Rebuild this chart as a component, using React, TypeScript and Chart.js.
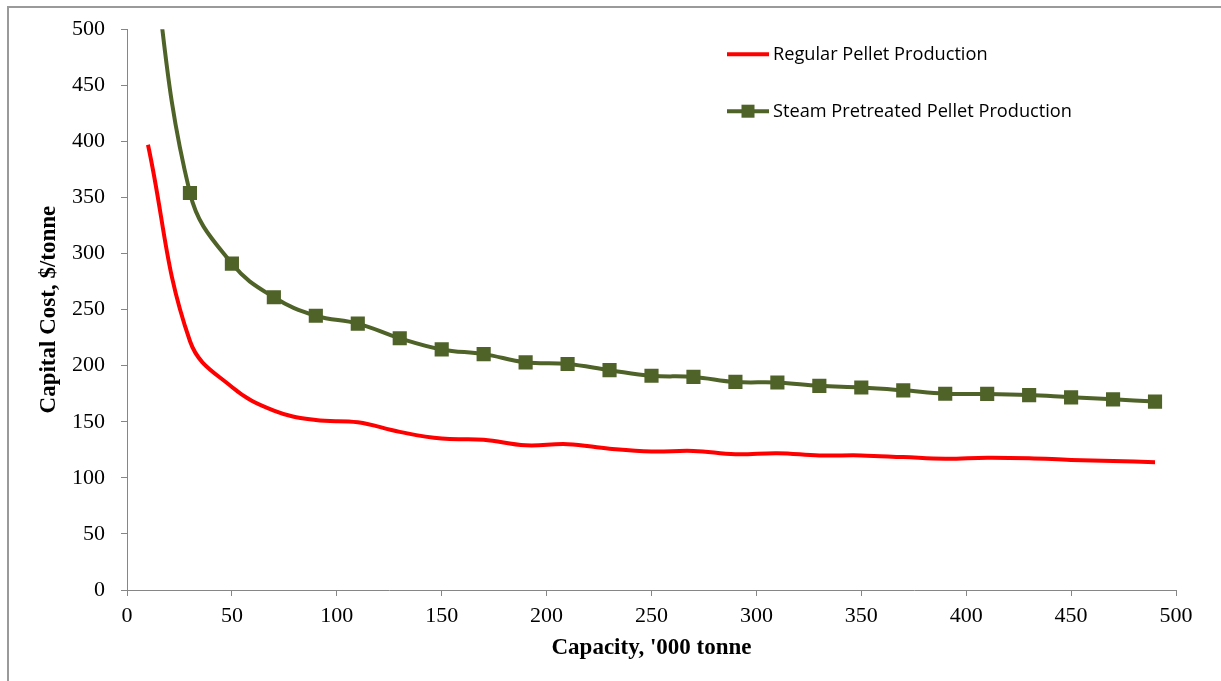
import React, { useEffect, useRef } from "react";
import { Chart, registerables } from "chart.js";

Chart.register(...registerables);

// Capacity, '000 tonne
const capacity = [10, 30, 50, 70, 90, 110, 130, 150, 170, 190, 210, 230, 250, 270, 290, 310, 330, 350, 370, 390, 410, 430, 450, 470, 490];
// Capital cost, $/tonne
const regularPellet = [397, 222, 181, 160, 151.5, 149.5, 141, 135, 134, 129, 130, 126, 123.5, 124, 121, 122, 120, 120, 118.5, 117, 118, 117.5, 116, 115, 114];
const steamPellet = [600, 354, 291, 261, 244.5, 237.5, 224.5, 214.5, 210.3, 203, 201.5, 196, 191, 190, 185.5, 185, 182, 180.5, 178, 175, 174.8, 173.8, 171.8, 170, 168];

const seriesNames = ["Regular Pellet Production", "Steam Pretreated Pellet Production"];
const xTickValues = [0, 50, 100, 150, 200, 250, 300, 350, 400, 450, 500];
const yTickValues = [0, 50, 100, 150, 200, 250, 300, 350, 400, 450, 500];

const RED = "#FF0000";
const OLIVE = "#4F6228";
const AXIS = "#868686";
const SERIF = "'Liberation Serif', 'Times New Roman', serif";

const framePlugin = {
  id: "frame",
  beforeDraw(chart: any) {
    const ctx = chart.ctx;
    ctx.save();
    ctx.fillStyle = "#ffffff";
    ctx.fillRect(0, 0, chart.width, chart.height);
    ctx.strokeStyle = "#9a9a9a";
    ctx.lineWidth = 2;
    ctx.strokeRect(8, 7, chart.width + 20, chart.height + 20);
    ctx.restore();
  },
};

const legendPlugin = {
  id: "customLegend",
  afterDraw(chart: any) {
    const ctx = chart.ctx;
    const area = chart.chartArea;
    const x0 = area.left + 600;
    const rows = [area.top + 25, area.top + 82];
    ctx.save();
    ctx.font = "18.2px 'Open Sans', sans-serif";
    ctx.textBaseline = "middle";
    ctx.textAlign = "left";
    chart.data.datasets.forEach((ds: any, i: number) => {
      const y = rows[i];
      ctx.strokeStyle = ds.borderColor;
      ctx.lineWidth = 4;
      ctx.beginPath();
      ctx.moveTo(x0, y);
      ctx.lineTo(x0 + 42, y);
      ctx.stroke();
      if (ds.pointRadius > 0) {
        ctx.fillStyle = ds.pointBackgroundColor;
        ctx.fillRect(x0 + 21 - 6.5, y - 6.5, 13, 13);
      }
      ctx.fillStyle = "#000";
      ctx.fillText(ds.label, x0 + 46, y + 1);
    });
    ctx.restore();
  },
};

export default function App() {
  const canvasRef = useRef<HTMLCanvasElement | null>(null);

  useEffect(() => {
    if (!canvasRef.current) return;
    const chart = new Chart(canvasRef.current, {
      type: "line",
      data: {
        datasets: [
          {
            label: seriesNames[0],
            data: capacity.map((x, i) => ({ x, y: regularPellet[i] })),
            borderColor: RED,
            backgroundColor: RED,
            borderWidth: 4,
            pointRadius: 0,
            pointHoverRadius: 0,
            tension: 0.4,
            fill: false,
          },
          {
            label: seriesNames[1],
            data: capacity.map((x, i) => ({ x, y: steamPellet[i] })),
            borderColor: OLIVE,
            backgroundColor: OLIVE,
            pointBackgroundColor: OLIVE,
            pointBorderColor: OLIVE,
            pointBorderWidth: 0,
            borderWidth: 4,
            pointStyle: "rect",
            pointRadius: 10,
            pointHoverRadius: 10,
            tension: 0.4,
            fill: false,
          },
        ],
      },
      options: {
        responsive: false,
        animation: false,
        devicePixelRatio: 1,
        layout: { padding: { top: 29, right: 45, left: 0, bottom: 0 } },
        plugins: {
          legend: { display: false },
          tooltip: { enabled: false },
          title: { display: false },
        },
        scales: {
          x: {
            type: "linear",
            min: 0,
            max: 500,
            afterFit: (scale: any) => {
              scale.height = 91;
            },
            afterBuildTicks: (scale: any) => {
              scale.ticks = xTickValues.map((v) => ({ value: v }));
            },
            border: { display: true, color: AXIS, width: 1 },
            grid: { display: true, drawOnChartArea: false, drawTicks: true, tickLength: 6, color: AXIS },
            ticks: {
              color: "#000",
              font: { family: SERIF, size: 22 },
              padding: 7,
              maxRotation: 0,
              autoSkip: false,
            },
            title: {
              display: true,
              text: "Capacity, '000 tonne",
              color: "#000",
              font: { family: SERIF, size: 23, weight: "bold" },
              padding: { top: 0, bottom: 19 },
            },
          },
          y: {
            type: "linear",
            min: 0,
            max: 500,
            afterFit: (scale: any) => {
              scale.width = 127;
            },
            afterBuildTicks: (scale: any) => {
              scale.ticks = yTickValues.map((v) => ({ value: v }));
            },
            border: { display: true, color: AXIS, width: 1 },
            grid: { display: true, drawOnChartArea: false, drawTicks: true, tickLength: 6, color: AXIS },
            ticks: {
              color: "#000",
              font: { family: SERIF, size: 22 },
              padding: 16,
              autoSkip: false,
            },
            title: {
              display: true,
              text: "Capital Cost, $/tonne",
              color: "#000",
              font: { family: SERIF, size: 23, weight: "bold" },
              padding: { top: 35, bottom: 0 },
            },
          },
        },
      },
      plugins: [framePlugin, legendPlugin],
    });
    return () => chart.destroy();
  }, []);

  return (
    <div style={{ position: "absolute", left: 0, top: 0, width: 1221, height: 681 }}>
      <canvas ref={canvasRef} width={1221} height={681} style={{ display: "block" }} />
    </div>
  );
}
